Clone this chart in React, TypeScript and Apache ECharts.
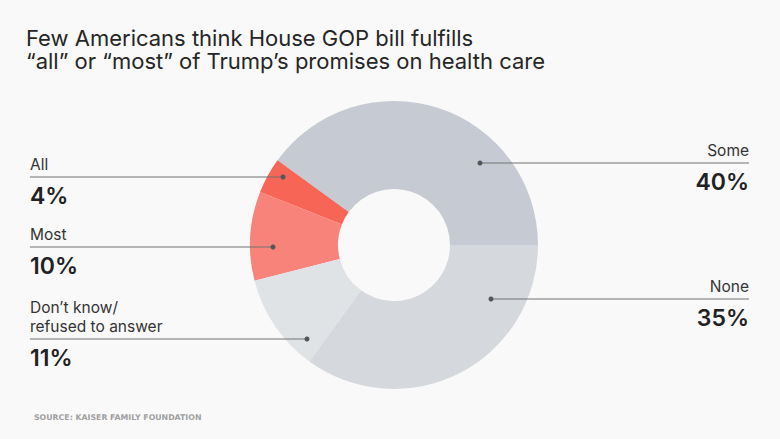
import React, { useEffect, useRef } from "react";
import * as echarts from "echarts";

const categories = ["Some", "All", "Most", "Don’t know/\nrefused to answer", "None"];
const values = [40, 4, 10, 11, 35];
const colors = ["#c6cbd3", "#f66556", "#f8837a", "#e0e3e6", "#d5d9dd"];
const titleText = "Few Americans think House GOP bill fulfills\n“all” or “most” of Trump’s promises on health care";
const sourceText = "SOURCE: KAISER FAMILY FOUNDATION";

// annotation layout: side, line y, dot x
const annoSide = ["right", "left", "left", "left", "right"];
const annoLineY = [163, 177, 247, 339, 299];
const annoDotX = [480, 283, 273, 307, 491];

const FONT = "Inter, 'Liberation Sans', Arial, sans-serif";

export default function App() {
  const ref = useRef<HTMLDivElement>(null);
  useEffect(() => {
    if (!ref.current) return;
    const chart = echarts.init(ref.current, undefined, { renderer: "svg" });
    const graphics: any[] = [];
    const leftX = 30;
    const rightX = 749;
    categories.forEach((name, i) => {
      const y = annoLineY[i];
      const isLeft = annoSide[i] === "left";
      graphics.push({
        type: "line",
        shape: isLeft
          ? { x1: leftX, y1: y, x2: annoDotX[i], y2: y }
          : { x1: annoDotX[i], y1: y, x2: rightX, y2: y },
        style: { stroke: "#707070", lineWidth: 1 },
        z: 10,
      });
      graphics.push({
        type: "circle",
        shape: { cx: annoDotX[i], cy: y, r: 2.5 },
        style: { fill: "#555" },
        z: 11,
      });
      graphics.push({
        type: "text",
        x: isLeft ? leftX : rightX,
        y: y - 3.3,
        style: {
          text: name,
          font: `15.5px ${FONT}`,
          lineHeight: 18.7,
          fill: "#333",
          align: isLeft ? "left" : "right",
          verticalAlign: "bottom",
        },
        z: 10,
      });
      graphics.push({
        type: "text",
        x: isLeft ? leftX : rightX,
        y: y + 18.5,
        style: {
          text: `${values[i]}%`,
          font: `600 23px ${FONT}`,
          fill: "#222",
          align: isLeft ? "left" : "right",
          verticalAlign: "middle",
        },
        z: 10,
      });
    });
    graphics.push({
      type: "text",
      x: 26,
      y: 49.8,
      style: {
        text: titleText,
        font: `22px ${FONT}`,
        lineHeight: 23,
        fill: "#262626",
        verticalAlign: "middle",
      },
    });
    graphics.push({
      type: "text",
      x: 34,
      y: 417,
      style: {
        text: sourceText,
        font: `bold 7.8px 'DejaVu Sans', sans-serif`,
        fill: "#a0a0a0",
        verticalAlign: "middle",
      },
    });

    chart.setOption({
      animation: false,
      backgroundColor: "#f9f9f9",
      series: [
        {
          type: "pie",
          center: [394, 245],
          radius: [56, 144],
          startAngle: 0,
          clockwise: false,
          silent: true,
          label: { show: false },
          labelLine: { show: false },
          itemStyle: { borderWidth: 0 },
          data: categories.map((name, i) => ({
            name,
            value: values[i],
            itemStyle: { color: colors[i] },
          })),
        },
      ],
      graphic: graphics,
    });
    return () => chart.dispose();
  }, []);
  return (
    <div
      ref={ref}
      style={{ position: "fixed", left: 0, top: 0, width: 780, height: 439 }}
    />
  );
}
